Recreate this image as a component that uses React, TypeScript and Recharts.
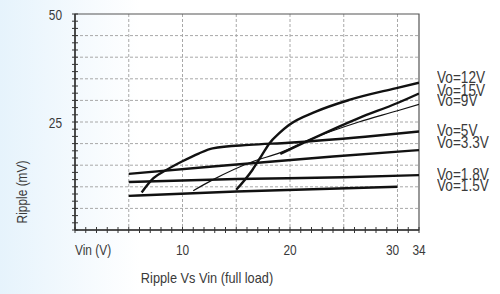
import React from 'react';
import { LineChart, Line, XAxis, YAxis, CartesianGrid, ReferenceArea } from 'recharts';

// Vin (V) readings and ripple (mV) per output voltage
const vo12Vin = [15.0, 16.5, 17.4, 18.1, 19.0, 19.9, 22.4, 25.5, 29.8, 34];
const vo12Ripple = [9.3, 13.9, 17.4, 20.1, 22.4, 24.3, 27.4, 30.1, 32.8, 34.1];
const vo15Vin = [19.1, 21.8, 26.4, 30, 34];
const vo15Ripple = [17.6, 20.8, 25.9, 29.4, 31.6];
const vo9Vin = [11.0, 12.8, 16.5, 19.1, 21.8, 26.4, 30, 34];
const vo9Ripple = [9.1, 11.6, 15.8, 17.9, 20.9, 25.0, 27.6, 29.1];
const vo5Vin = [6.2, 7.3, 8.5, 9.9, 11.5, 12.8, 16.2, 19.9, 27, 34];
const vo5Ripple = [8.7, 12.0, 13.9, 15.8, 17.7, 18.9, 19.7, 20.2, 21.6, 22.8];
const vo33Vin = [5, 12.8, 24, 34];
const vo33Ripple = [13.0, 14.7, 17.0, 18.5];
const vo18Vin = [5, 15, 25, 34];
const vo18Ripple = [11.1, 11.8, 12.2, 12.7];
const vo15lowVin = [5, 15, 30];
const vo15lowRipple = [7.9, 8.9, 10.0];

const seriesNames = ['Vo=12V', 'Vo=15V', 'Vo=9V', 'Vo=5V', 'Vo=3.3V', 'Vo=1.8V', 'Vo=1.5V'];

// axis: 0..30 V linear, 30..34 V squeezed into the last two units
const toPos = (v: number) => (v <= 30 ? v : 30 + (v - 30) / 2);

const xTickLabels: Record<number, string> = { 0: 'Vin (V)', 10: '10', 20: '20', 30: '30', 32: '34' };
const yTickLabels: Record<number, string> = { 25: '25', 50: '50' };
const xGrid = [5, 10, 15, 20, 25, 30];
const yGrid = [5, 10, 15, 20, 25, 30, 35, 40, 45];
const xTicks = Array.from({ length: 33 }, (_, i) => i);
const yTicks = Array.from({ length: 31 }, (_, i) => Math.round((i * 5) / 3 * 1000) / 1000);

const series = [
    { name: seriesNames[0], vin: vo12Vin, ripple: vo12Ripple, w: 2.4 },
    { name: seriesNames[1], vin: vo15Vin, ripple: vo15Ripple, w: 2.4 },
    { name: seriesNames[2], vin: vo9Vin, ripple: vo9Ripple, w: 1.2 },
    { name: seriesNames[3], vin: vo5Vin, ripple: vo5Ripple, w: 2.4 },
    { name: seriesNames[4], vin: vo33Vin, ripple: vo33Ripple, w: 2.4 },
    { name: seriesNames[5], vin: vo18Vin, ripple: vo18Ripple, w: 2.4 },
    { name: seriesNames[6], vin: vo15lowVin, ripple: vo15lowRipple, w: 2.4 },
].map((s) => ({ ...s, data: s.vin.map((v, i) => ({ pos: toPos(v), ripple: s.ripple[i] })) }));

const legendTops = [78, 91, 101, 131, 142.5, 175, 186];

const FONT = "'Liberation Sans', Arial, sans-serif";
const TEXT = '#3a3a3a';
const SQUEEZE = 0.85;

const XTick = (props: any) => {
    const { x, y, payload } = props;
    const label = xTickLabels[payload.value];
    const anchor = payload.value === 0 ? 'start' : 'middle';
    const dx = payload.value === 30 ? -5 : 0;
    return (
        <g>
            <line x1={x} x2={x} y1={y - 3} y2={y + 3} stroke="#333" strokeWidth={1} />
            {label && (
                <text
                    transform={`translate(${x + dx},${y + 25}) scale(${SQUEEZE},1)`}
                    textAnchor={anchor}
                    fontSize={14}
                    fill={TEXT}
                    fontFamily={FONT}
                >
                    {label}
                </text>
            )}
        </g>
    );
};

const YTick = (props: any) => {
    const { x, y, payload } = props;
    const label = yTickLabels[Math.round(payload.value * 1000) / 1000];
    return (
        <g>
            <line x1={x - 3} x2={x + 3} y1={y} y2={y} stroke="#333" strokeWidth={1} />
            {label && (
                <text
                    transform={`translate(${x - 13},${y + 5.5}) scale(${SQUEEZE},1)`}
                    textAnchor="end"
                    fontSize={14}
                    fill={TEXT}
                    fontFamily={FONT}
                >
                    {label}
                </text>
            )}
        </g>
    );
};

export default function App() {
    return (
        <div
            style={{
                position: 'absolute',
                left: 0,
                top: 0,
                width: 500,
                height: 294,
                background: 'linear-gradient(to right, #e6f3fc 0px, #ffffff 140px)',
                fontFamily: FONT,
                color: TEXT,
            }}
        >
            <LineChart width={500} height={294} margin={{ top: 14, right: 81, bottom: 34, left: 55 }}>
                <CartesianGrid
                    stroke="#a8a8a8"
                    strokeDasharray="3 2"
                    verticalValues={xGrid}
                    horizontalValues={yGrid}
                />
                <XAxis
                    type="number"
                    dataKey="pos"
                    domain={[0, 32]}
                    ticks={xTicks}
                    interval={0}
                    tick={<XTick />}
                    tickLine={false}
                    tickSize={0}
                    tickMargin={0}
                    height={30}
                    axisLine={{ stroke: '#333', strokeWidth: 1.5 }}
                    allowDataOverflow
                />
                <YAxis
                    type="number"
                    domain={[0, 50]}
                    ticks={yTicks}
                    interval={0}
                    tick={<YTick />}
                    tickLine={false}
                    tickSize={0}
                    tickMargin={0}
                    width={20}
                    axisLine={{ stroke: '#333', strokeWidth: 1.5 }}
                    allowDataOverflow
                />
                <ReferenceArea x1={0} x2={32} y1={0} y2={50} fill="none" stroke="#555" strokeWidth={1.2} ifOverflow="visible" />
                {series.map((s) => (
                    <Line
                        key={s.name}
                        data={s.data}
                        dataKey="ripple"
                        type="monotone"
                        stroke="#111"
                        strokeWidth={s.w}
                        dot={false}
                        activeDot={false}
                        isAnimationActive={false}
                    />
                ))}
            </LineChart>
            {series.map((s, i) => (
                <div
                    key={s.name}
                    style={{
                        position: 'absolute',
                        left: 437,
                        top: legendTops[i] - 8,
                        fontSize: 16,
                        lineHeight: '16px',
                        whiteSpace: 'nowrap',
                        transform: `scaleX(${SQUEEZE})`,
                        transformOrigin: 'left center',
                    }}
                >
                    {s.name}
                </div>
            ))}
            <div
                style={{
                    position: 'absolute',
                    left: 0,
                    width: 414,
                    top: 270,
                    textAlign: 'center',
                    fontSize: 15,
                    lineHeight: '16px',
                    transform: `scaleX(${SQUEEZE})`,
                    transformOrigin: '207px center',
                }}
            >
                Ripple Vs Vin (full load)
            </div>
            <div
                style={{
                    position: 'absolute',
                    left: 22,
                    top: 192,
                    fontSize: 14,
                    lineHeight: '16px',
                    whiteSpace: 'nowrap',
                    transform: `translate(-50%, -50%) rotate(-90deg) scaleX(${SQUEEZE})`,
                }}
            >
                Ripple (mV)
            </div>
        </div>
    );
}
